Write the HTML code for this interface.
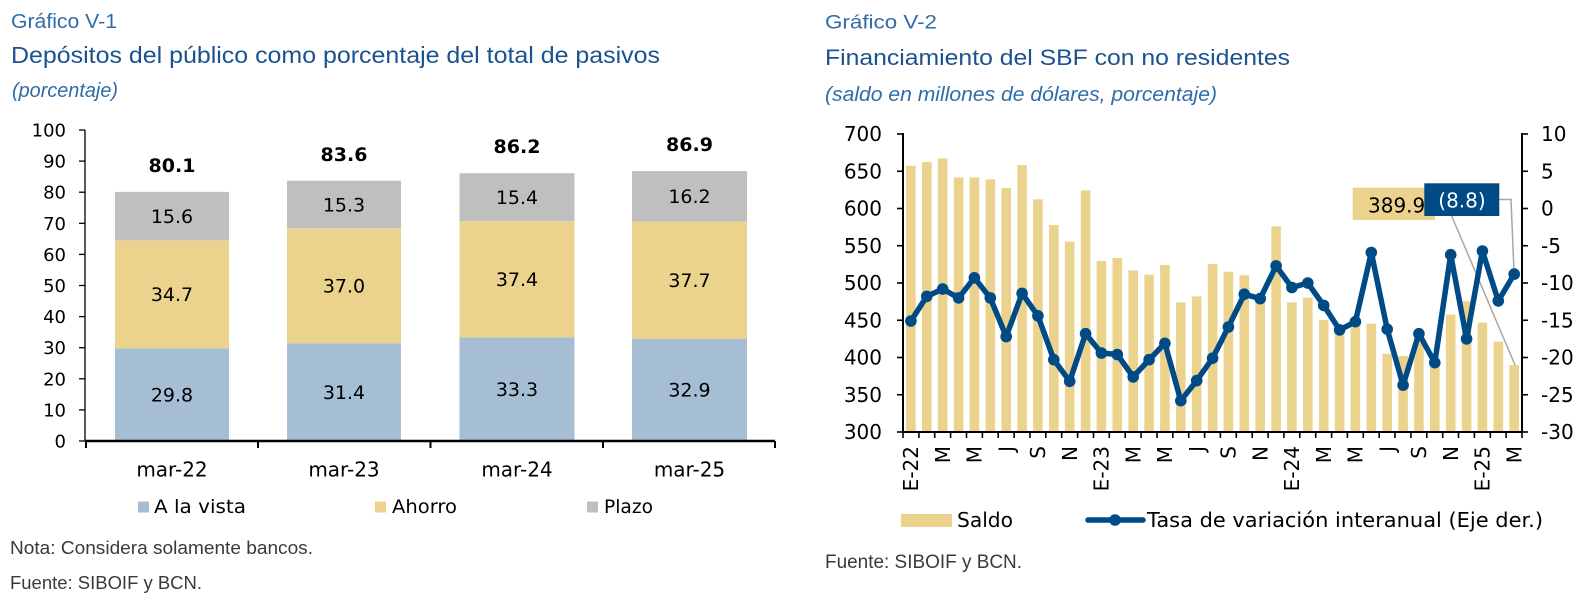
<!DOCTYPE html>
<html><head><meta charset="utf-8"><style>
html,body{margin:0;padding:0;background:#fff;}
svg{display:block;}
.t{font-family:"DejaVu Sans","Liberation Sans",sans-serif;fill:#000;}
.h{font-family:"Liberation Sans",sans-serif;}
</style></head><body>
<svg width="1588" height="597" viewBox="0 0 1588 597" xmlns="http://www.w3.org/2000/svg">
<rect width="1588" height="597" fill="#fff"/>
<!-- LEFT TITLES -->
<text class="h" x="11" y="28" font-size="20" fill="#2F6CA8" textLength="106" lengthAdjust="spacingAndGlyphs">Gráfico V-1</text>
<text class="h" x="11" y="63" font-size="23" fill="#1B5290" textLength="649" lengthAdjust="spacingAndGlyphs">Depósitos del público como porcentaje del total de pasivos</text>
<text class="h" x="12" y="97" font-size="20" font-style="italic" fill="#2F6CA8" textLength="106" lengthAdjust="spacingAndGlyphs">(porcentaje)</text>

<!-- LEFT CHART -->
<g class="t" font-size="18" text-anchor="end">
<text x="66" y="136.5">100</text>
<text x="66" y="167.6">90</text>
<text x="66" y="198.7">80</text>
<text x="66" y="229.8">70</text>
<text x="66" y="260.9">60</text>
<text x="66" y="292">50</text>
<text x="66" y="323.1">40</text>
<text x="66" y="354.2">30</text>
<text x="66" y="385.3">20</text>
<text x="66" y="416.4">10</text>
<text x="66" y="447.5">0</text>
</g>
<g stroke="#000" stroke-width="1.3">
<line x1="79" y1="130" x2="85" y2="130"/><line x1="79" y1="161.1" x2="85" y2="161.1"/>
<line x1="79" y1="192.2" x2="85" y2="192.2"/><line x1="79" y1="223.3" x2="85" y2="223.3"/>
<line x1="79" y1="254.4" x2="85" y2="254.4"/><line x1="79" y1="285.5" x2="85" y2="285.5"/>
<line x1="79" y1="316.6" x2="85" y2="316.6"/><line x1="79" y1="347.7" x2="85" y2="347.7"/>
<line x1="79" y1="378.8" x2="85" y2="378.8"/><line x1="79" y1="409.9" x2="85" y2="409.9"/>
<line x1="79" y1="441" x2="85" y2="441"/>
<line x1="85" y1="130" x2="85" y2="441"/>
</g>
<!-- bars -->
<rect x="115" y="348.3" width="114" height="92.7" fill="#A5BED4"/>
<rect x="115" y="240.4" width="114" height="107.9" fill="#EBD38E"/>
<rect x="115" y="191.9" width="114" height="48.5" fill="#BFBFBF"/>
<rect x="287" y="343.3" width="114" height="97.7" fill="#A5BED4"/>
<rect x="287" y="228.3" width="114" height="115" fill="#EBD38E"/>
<rect x="287" y="180.7" width="114" height="47.6" fill="#BFBFBF"/>
<rect x="459.5" y="337.4" width="115" height="103.6" fill="#A5BED4"/>
<rect x="459.5" y="221.1" width="115" height="116.3" fill="#EBD38E"/>
<rect x="459.5" y="173.2" width="115" height="47.9" fill="#BFBFBF"/>
<rect x="632" y="338.7" width="115" height="102.3" fill="#A5BED4"/>
<rect x="632" y="221.4" width="115" height="117.3" fill="#EBD38E"/>
<rect x="632" y="171.1" width="115" height="50.3" fill="#BFBFBF"/>
<g stroke="#000" stroke-width="2.5">
<line x1="85" y1="441" x2="775" y2="441"/>
</g>
<g stroke="#000" stroke-width="2">
<line x1="86" y1="441" x2="86" y2="448"/><line x1="258" y1="441" x2="258" y2="448"/>
<line x1="430.5" y1="441" x2="430.5" y2="448"/><line x1="603" y1="441" x2="603" y2="448"/>
<line x1="775" y1="441" x2="775" y2="448"/>
</g>
<g class="t" font-size="19" text-anchor="middle">
<text x="172" y="401.5">29.8</text><text x="172" y="301">34.7</text><text x="172" y="223">15.6</text>
<text x="344" y="399">31.4</text><text x="344" y="292.6">37.0</text><text x="344" y="211.3">15.3</text>
<text x="517" y="396">33.3</text><text x="517" y="286.1">37.4</text><text x="517" y="204">15.4</text>
<text x="689.5" y="396.7">32.9</text><text x="689.5" y="286.8">37.7</text><text x="689.5" y="203">16.2</text>
</g>
<g class="t" font-size="19" font-weight="bold" text-anchor="middle">
<text x="172" y="172">80.1</text>
<text x="344" y="161">83.6</text>
<text x="517" y="153">86.2</text>
<text x="689.5" y="151">86.9</text>
</g>
<g class="t" font-size="20" text-anchor="middle">
<text x="172" y="476.5">mar-22</text>
<text x="344" y="476.5">mar-23</text>
<text x="517" y="476.5">mar-24</text>
<text x="689.5" y="476.5">mar-25</text>
</g>
<rect x="138" y="501.5" width="11" height="11" fill="#A5BED4"/>
<text class="t" x="154" y="513" font-size="19" textLength="92" lengthAdjust="spacingAndGlyphs">A la vista</text>
<rect x="375" y="501.5" width="11" height="11" fill="#EBD38E"/>
<text class="t" x="392" y="513" font-size="19" textLength="65" lengthAdjust="spacingAndGlyphs">Ahorro</text>
<rect x="587" y="501.5" width="11" height="11" fill="#BFBFBF"/>
<text class="t" x="604" y="513" font-size="19" textLength="49" lengthAdjust="spacingAndGlyphs">Plazo</text>

<text class="h" x="10" y="554" font-size="18" fill="#3a3a3a" textLength="303" lengthAdjust="spacingAndGlyphs">Nota: Considera solamente bancos.</text>
<text class="h" x="10" y="589" font-size="18" fill="#3a3a3a" textLength="192" lengthAdjust="spacingAndGlyphs">Fuente: SIBOIF y BCN.</text>

<!-- RIGHT TITLES -->
<text class="h" x="825" y="28.3" font-size="19" fill="#2F6CA8" textLength="112" lengthAdjust="spacingAndGlyphs">Gráfico V-2</text>
<text class="h" x="825" y="65" font-size="22" fill="#1B5290" textLength="465" lengthAdjust="spacingAndGlyphs">Financiamiento del SBF con no residentes</text>
<text class="h" x="825" y="101" font-size="20" font-style="italic" fill="#2F6CA8" textLength="392" lengthAdjust="spacingAndGlyphs">(saldo en millones de dólares, porcentaje)</text>

<!-- RIGHT CHART bars -->
<g fill="#EBD38E">
<rect x="906.1" y="165.7" width="9.6" height="266.3"/>
<rect x="922.0" y="162.0" width="9.6" height="270.0"/>
<rect x="937.9" y="158.4" width="9.6" height="273.6"/>
<rect x="953.8" y="177.4" width="9.6" height="254.6"/>
<rect x="969.6" y="177.4" width="9.6" height="254.6"/>
<rect x="985.5" y="179.3" width="9.6" height="252.7"/>
<rect x="1001.4" y="188.0" width="9.6" height="244.0"/>
<rect x="1017.3" y="165.0" width="9.6" height="267.0"/>
<rect x="1033.1" y="199.3" width="9.6" height="232.7"/>
<rect x="1049.0" y="225.0" width="9.6" height="207.0"/>
<rect x="1064.9" y="241.7" width="9.6" height="190.3"/>
<rect x="1080.8" y="190.3" width="9.6" height="241.7"/>
<rect x="1096.6" y="261.0" width="9.6" height="171.0"/>
<rect x="1112.5" y="258.0" width="9.6" height="174.0"/>
<rect x="1128.4" y="270.3" width="9.6" height="161.7"/>
<rect x="1144.3" y="274.7" width="9.6" height="157.3"/>
<rect x="1160.1" y="265.0" width="9.6" height="167.0"/>
<rect x="1176.0" y="302.4" width="9.6" height="129.6"/>
<rect x="1191.9" y="296.4" width="9.6" height="135.6"/>
<rect x="1207.8" y="264.0" width="9.6" height="168.0"/>
<rect x="1223.6" y="271.7" width="9.6" height="160.3"/>
<rect x="1239.5" y="275.3" width="9.6" height="156.7"/>
<rect x="1255.4" y="297.9" width="9.6" height="134.1"/>
<rect x="1271.3" y="226.3" width="9.6" height="205.7"/>
<rect x="1287.1" y="302.4" width="9.6" height="129.6"/>
<rect x="1303.0" y="297.7" width="9.6" height="134.3"/>
<rect x="1318.9" y="320.0" width="9.6" height="112.0"/>
<rect x="1334.8" y="327.7" width="9.6" height="104.3"/>
<rect x="1350.6" y="324.0" width="9.6" height="108.0"/>
<rect x="1366.5" y="323.7" width="9.6" height="108.3"/>
<rect x="1382.4" y="353.7" width="9.6" height="78.3"/>
<rect x="1398.3" y="356.0" width="9.6" height="76.0"/>
<rect x="1414.1" y="333.7" width="9.6" height="98.3"/>
<rect x="1430.0" y="359.0" width="9.6" height="73.0"/>
<rect x="1445.9" y="314.7" width="9.6" height="117.3"/>
<rect x="1461.8" y="301.3" width="9.6" height="130.7"/>
<rect x="1477.6" y="322.6" width="9.6" height="109.4"/>
<rect x="1493.5" y="341.7" width="9.6" height="90.3"/>
<rect x="1509.4" y="365.0" width="9.6" height="67.0"/>
</g>

<!-- leader lines -->
<g stroke="#A6A6A6" stroke-width="1.5" fill="none">
<polyline points="1451.7,216 1515,365"/>
<polyline points="1499,199.5 1511,199.5 1514,272"/>
</g>

<!-- line series -->
<g>
<polyline fill="none" stroke="#004A86" stroke-width="5.5" stroke-linejoin="round" points="910.9,321.0 926.8,296.4 942.7,289.0 958.6,297.9 974.4,277.8 990.3,297.9 1006.2,336.6 1022.1,293.4 1037.9,315.8 1053.8,359.7 1069.7,381.3 1085.6,333.7 1101.4,353.0 1117.3,354.5 1133.2,376.9 1149.1,359.7 1164.9,343.3 1180.8,400.7 1196.7,380.6 1212.6,358.2 1228.4,327.0 1244.3,294.2 1260.2,298.6 1276.1,265.9 1291.9,287.5 1307.8,283.0 1323.7,305.4 1339.6,329.9 1355.4,321.7 1371.3,252.5 1387.2,329.2 1403.1,385.1 1418.9,333.7 1434.8,362.7 1450.7,254.7 1466.6,338.9 1482.4,251.0 1498.3,300.9 1514.2,274.1"/>
<g fill="#004A86">
<circle cx="910.9" cy="321.0" r="5.8"/><circle cx="926.8" cy="296.4" r="5.8"/><circle cx="942.7" cy="289.0" r="5.8"/>
<circle cx="958.6" cy="297.9" r="5.8"/><circle cx="974.4" cy="277.8" r="5.8"/><circle cx="990.3" cy="297.9" r="5.8"/>
<circle cx="1006.2" cy="336.6" r="5.8"/><circle cx="1022.1" cy="293.4" r="5.8"/><circle cx="1037.9" cy="315.8" r="5.8"/>
<circle cx="1053.8" cy="359.7" r="5.8"/><circle cx="1069.7" cy="381.3" r="5.8"/><circle cx="1085.6" cy="333.7" r="5.8"/>
<circle cx="1101.4" cy="353.0" r="5.8"/><circle cx="1117.3" cy="354.5" r="5.8"/><circle cx="1133.2" cy="376.9" r="5.8"/>
<circle cx="1149.1" cy="359.7" r="5.8"/><circle cx="1164.9" cy="343.3" r="5.8"/><circle cx="1180.8" cy="400.7" r="5.8"/>
<circle cx="1196.7" cy="380.6" r="5.8"/><circle cx="1212.6" cy="358.2" r="5.8"/><circle cx="1228.4" cy="327.0" r="5.8"/>
<circle cx="1244.3" cy="294.2" r="5.8"/><circle cx="1260.2" cy="298.6" r="5.8"/><circle cx="1276.1" cy="265.9" r="5.8"/>
<circle cx="1291.9" cy="287.5" r="5.8"/><circle cx="1307.8" cy="283.0" r="5.8"/><circle cx="1323.7" cy="305.4" r="5.8"/>
<circle cx="1339.6" cy="329.9" r="5.8"/><circle cx="1355.4" cy="321.7" r="5.8"/><circle cx="1371.3" cy="252.5" r="5.8"/>
<circle cx="1387.2" cy="329.2" r="5.8"/><circle cx="1403.1" cy="385.1" r="5.8"/><circle cx="1418.9" cy="333.7" r="5.8"/>
<circle cx="1434.8" cy="362.7" r="5.8"/><circle cx="1450.7" cy="254.7" r="5.8"/><circle cx="1466.6" cy="338.9" r="5.8"/>
<circle cx="1482.4" cy="251.0" r="5.8"/><circle cx="1498.3" cy="300.9" r="5.8"/><circle cx="1514.2" cy="274.1" r="5.8"/>
</g>
</g>

<!-- data label boxes -->
<rect x="1352.7" y="187.7" width="82.3" height="32.3" fill="#EBD38E"/>
<text class="t" x="1368" y="212.3" font-size="20">389.9</text>
<rect x="1424.3" y="183.3" width="75" height="32.7" fill="#004A86"/>
<text class="t" x="1462" y="207.3" font-size="20" text-anchor="middle" fill="#fff" style="fill:#fff">(8.8)</text>

<!-- axes -->
<g stroke="#000" stroke-width="2">
<line x1="903" y1="133" x2="903" y2="433"/>
<line x1="1522" y1="133" x2="1522" y2="433"/>
<line x1="902" y1="432" x2="1523" y2="432"/>
</g>
<g stroke="#000" stroke-width="1.6">
<line x1="897" y1="134" x2="903" y2="134"/><line x1="897" y1="171.25" x2="903" y2="171.25"/>
<line x1="897" y1="208.5" x2="903" y2="208.5"/><line x1="897" y1="245.75" x2="903" y2="245.75"/>
<line x1="897" y1="283" x2="903" y2="283"/><line x1="897" y1="320.25" x2="903" y2="320.25"/>
<line x1="897" y1="357.5" x2="903" y2="357.5"/><line x1="897" y1="394.75" x2="903" y2="394.75"/>
<line x1="897" y1="432" x2="903" y2="432"/>
<line x1="1522" y1="134" x2="1528" y2="134"/><line x1="1522" y1="171.25" x2="1528" y2="171.25"/>
<line x1="1522" y1="208.5" x2="1528" y2="208.5"/><line x1="1522" y1="245.75" x2="1528" y2="245.75"/>
<line x1="1522" y1="283" x2="1528" y2="283"/><line x1="1522" y1="320.25" x2="1528" y2="320.25"/>
<line x1="1522" y1="357.5" x2="1528" y2="357.5"/><line x1="1522" y1="394.75" x2="1528" y2="394.75"/>
<line x1="1522" y1="432" x2="1528" y2="432"/>
</g>
<g stroke="#000" stroke-width="1.6">
<line x1="903.0" y1="432" x2="903.0" y2="438"/><line x1="918.9" y1="432" x2="918.9" y2="438"/><line x1="934.7" y1="432" x2="934.7" y2="438"/><line x1="950.6" y1="432" x2="950.6" y2="438"/><line x1="966.5" y1="432" x2="966.5" y2="438"/><line x1="982.4" y1="432" x2="982.4" y2="438"/><line x1="998.2" y1="432" x2="998.2" y2="438"/><line x1="1014.1" y1="432" x2="1014.1" y2="438"/><line x1="1030.0" y1="432" x2="1030.0" y2="438"/><line x1="1045.8" y1="432" x2="1045.8" y2="438"/>
<line x1="1061.7" y1="432" x2="1061.7" y2="438"/><line x1="1077.6" y1="432" x2="1077.6" y2="438"/><line x1="1093.5" y1="432" x2="1093.5" y2="438"/><line x1="1109.3" y1="432" x2="1109.3" y2="438"/><line x1="1125.2" y1="432" x2="1125.2" y2="438"/><line x1="1141.1" y1="432" x2="1141.1" y2="438"/><line x1="1157.0" y1="432" x2="1157.0" y2="438"/><line x1="1172.8" y1="432" x2="1172.8" y2="438"/><line x1="1188.7" y1="432" x2="1188.7" y2="438"/><line x1="1204.6" y1="432" x2="1204.6" y2="438"/>
<line x1="1220.4" y1="432" x2="1220.4" y2="438"/><line x1="1236.3" y1="432" x2="1236.3" y2="438"/><line x1="1252.2" y1="432" x2="1252.2" y2="438"/><line x1="1268.1" y1="432" x2="1268.1" y2="438"/><line x1="1283.9" y1="432" x2="1283.9" y2="438"/><line x1="1299.8" y1="432" x2="1299.8" y2="438"/><line x1="1315.7" y1="432" x2="1315.7" y2="438"/><line x1="1331.6" y1="432" x2="1331.6" y2="438"/><line x1="1347.4" y1="432" x2="1347.4" y2="438"/><line x1="1363.3" y1="432" x2="1363.3" y2="438"/>
<line x1="1379.2" y1="432" x2="1379.2" y2="438"/><line x1="1395.0" y1="432" x2="1395.0" y2="438"/><line x1="1410.9" y1="432" x2="1410.9" y2="438"/><line x1="1426.8" y1="432" x2="1426.8" y2="438"/><line x1="1442.7" y1="432" x2="1442.7" y2="438"/><line x1="1458.5" y1="432" x2="1458.5" y2="438"/><line x1="1474.4" y1="432" x2="1474.4" y2="438"/><line x1="1490.3" y1="432" x2="1490.3" y2="438"/><line x1="1506.1" y1="432" x2="1506.1" y2="438"/><line x1="1522.0" y1="432" x2="1522.0" y2="438"/>
</g>
<!-- left axis labels -->
<g class="t" font-size="20" text-anchor="end">
<text x="882" y="141.2">700</text><text x="882" y="178.45">650</text><text x="882" y="215.7">600</text>
<text x="882" y="252.95">550</text><text x="882" y="290.2">500</text><text x="882" y="327.45">450</text>
<text x="882" y="364.7">400</text><text x="882" y="401.95">350</text><text x="882" y="439.2">300</text>
</g>
<g class="t" font-size="20">
<text x="1541" y="141.2">10</text><text x="1541" y="178.45">5</text><text x="1541" y="215.7">0</text>
<text x="1541" y="252.95">-5</text><text x="1541" y="290.2">-10</text><text x="1541" y="327.45">-15</text>
<text x="1541" y="364.7">-20</text><text x="1541" y="401.95">-25</text><text x="1541" y="439.2">-30</text>
</g>
<!-- x labels rotated -->
<g class="t" font-size="20" text-anchor="end">
<text transform="translate(910.9,446) rotate(-90)" y="7.3">E-22</text>
<text transform="translate(942.7,446) rotate(-90)" y="7.3">M</text>
<text transform="translate(974.4,446) rotate(-90)" y="7.3">M</text>
<text transform="translate(1006.2,446) rotate(-90)" y="7.3">J</text>
<text transform="translate(1037.9,446) rotate(-90)" y="7.3">S</text>
<text transform="translate(1069.7,446) rotate(-90)" y="7.3">N</text>
<text transform="translate(1101.4,446) rotate(-90)" y="7.3">E-23</text>
<text transform="translate(1133.2,446) rotate(-90)" y="7.3">M</text>
<text transform="translate(1164.9,446) rotate(-90)" y="7.3">M</text>
<text transform="translate(1196.7,446) rotate(-90)" y="7.3">J</text>
<text transform="translate(1228.4,446) rotate(-90)" y="7.3">S</text>
<text transform="translate(1260.2,446) rotate(-90)" y="7.3">N</text>
<text transform="translate(1291.9,446) rotate(-90)" y="7.3">E-24</text>
<text transform="translate(1323.7,446) rotate(-90)" y="7.3">M</text>
<text transform="translate(1355.4,446) rotate(-90)" y="7.3">M</text>
<text transform="translate(1387.2,446) rotate(-90)" y="7.3">J</text>
<text transform="translate(1418.9,446) rotate(-90)" y="7.3">S</text>
<text transform="translate(1450.7,446) rotate(-90)" y="7.3">N</text>
<text transform="translate(1482.4,446) rotate(-90)" y="7.3">E-25</text>
<text transform="translate(1514.2,446) rotate(-90)" y="7.3">M</text>
</g>
<!-- right legend -->
<rect x="901" y="514" width="51" height="13" fill="#EBD38E"/>
<text class="t" x="957" y="527" font-size="20" textLength="56" lengthAdjust="spacingAndGlyphs">Saldo</text>
<line x1="1088" y1="520" x2="1143" y2="520" stroke="#004A86" stroke-width="5.5" stroke-linecap="round"/>
<circle cx="1115" cy="520" r="5.8" fill="#004A86"/>
<text class="t" x="1147" y="527" font-size="20" textLength="396" lengthAdjust="spacingAndGlyphs">Tasa de variación interanual (Eje der.)</text>
<text class="h" x="825" y="568" font-size="19" fill="#3a3a3a" textLength="197" lengthAdjust="spacingAndGlyphs">Fuente: SIBOIF y BCN.</text>
</svg>
</body></html>
